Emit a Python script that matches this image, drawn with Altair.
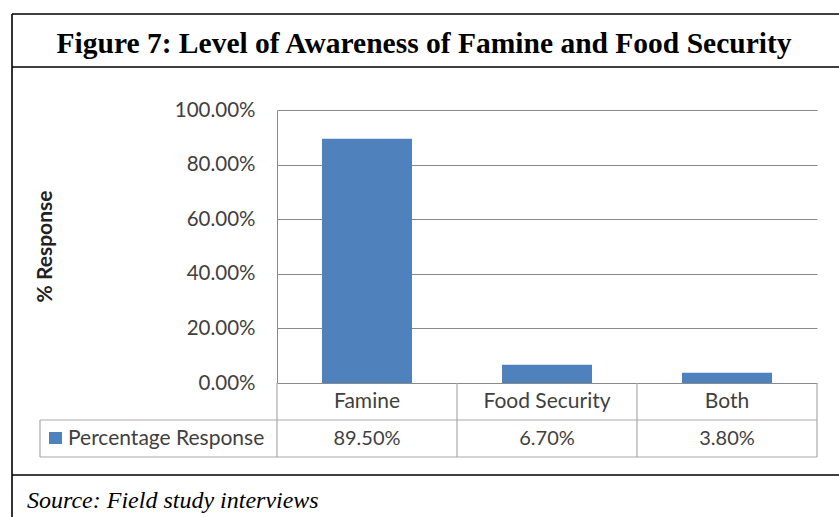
import altair as alt
import pandas as pd

# Survey results
categories = ["Famine", "Food Security", "Both"]
responses = [0.895, 0.067, 0.038]
series_name = "Percentage Response"
y_ticks = [0, 0.2, 0.4, 0.6, 0.8, 1.0]
figure_title = "Figure 7: Level of Awareness of Famine and Food Security"
source_note = "Source: Field study interviews"
y_title = "% Response"

df = pd.DataFrame({"category": categories, "value": responses})
one = pd.DataFrame({"k": [0]})

BLUE = "#4F81BD"
GRID = "#8A8A8A"
TABLE = "#A9A9A9"
TEXT = "#3F3F3F"
SANS = "Lato"
SERIF = "Liberation Serif"
FRAME_W = 1.6
WORD_SIZE = 21
NUM_SIZE = 20

x_enc = alt.X("category:N", sort=categories,
              scale=alt.Scale(paddingInner=0, paddingOuter=0), axis=None)

base = alt.Chart(df)

bars = base.mark_bar(width=alt.RelativeBandSize(0.5), color=BLUE).encode(
    x=x_enc,
    y=alt.Y("value:Q",
            scale=alt.Scale(domain=[0, 1], nice=False),
            axis=alt.Axis(values=y_ticks, format=".2%", title=y_title,
                          tickSize=0, labelPadding=22, labelFontSize=20.5,
                          labelFont=SANS, labelColor=TEXT,
                          domainColor=GRID, gridColor=GRID, grid=True,
                          titleFont=SANS, titleFontSize=21, titleFontWeight="bold",
                          titleColor="#222222", titleX=-232, titleY=136,
                          titleBaseline="middle", titleAlign="center")),
)

# data table under the plot: category header row and value row
header = base.mark_text(fontSize=WORD_SIZE, font=SANS, color=TEXT, baseline="middle").encode(
    x=x_enc, y=alt.value(292), text="category:N")
values_row = base.mark_text(fontSize=NUM_SIZE, font=SANS, color=TEXT, baseline="middle").encode(
    x=x_enc, y=alt.value(329), text=alt.Text("value:Q", format=".2%"))

col_lines = base.mark_rule(color=TABLE, strokeWidth=1.2).encode(
    x=alt.X("category:N", sort=categories, bandPosition=0,
            scale=alt.Scale(paddingInner=0, paddingOuter=0), axis=None),
    y=alt.value(273), y2=alt.value(347))

def hrule(x0, x1, y, color, w):
    return alt.Chart(one).mark_rule(color=color, strokeWidth=w).encode(
        x=alt.value(x0), x2=alt.value(x1), y=alt.value(y))

def vrule(x, y0, y1, color, w):
    return alt.Chart(one).mark_rule(color=color, strokeWidth=w).encode(
        x=alt.value(x), y=alt.value(y0), y2=alt.value(y1))

table_lines = [
    hrule(-237, 540, 310, TABLE, 1.2),
    hrule(-237, 540, 347, TABLE, 1.2),
    vrule(540, 273, 347, TABLE, 1.2),
    vrule(-237, 310, 347, TABLE, 1.2),
]

swatch = alt.Chart(one).mark_rect(color=BLUE).encode(
    x=alt.value(-228), x2=alt.value(-215), y=alt.value(322), y2=alt.value(334))
legend_text = alt.Chart(pd.DataFrame({"s": [series_name]})).mark_text(
    fontSize=WORD_SIZE, font=SANS, color=TEXT, align="left", baseline="middle").encode(
    x=alt.value(-209), y=alt.value(329), text="s:N")

# outer frame
frame = [
    hrule(-265, 562, -96, "#000000", FRAME_W),
    hrule(-265, 562, -43, "#000000", FRAME_W),
    hrule(-265, 562, 365, "#000000", FRAME_W),
    vrule(-265, -96, 407, "#000000", FRAME_W),
]

title = alt.Chart(pd.DataFrame({"t": [figure_title]})).mark_text(
    font=SERIF, fontSize=29.5, fontWeight="bold", color="#000000",
    align="center", baseline="alphabetic").encode(
    x=alt.value(147), y=alt.value(-57), text="t:N")

source = alt.Chart(pd.DataFrame({"t": [source_note]})).mark_text(
    font=SERIF, fontSize=24, fontStyle="italic", color="#000000",
    align="left", baseline="alphabetic").encode(
    x=alt.value(-250), y=alt.value(398), text="t:N")

chart = alt.layer(
    bars, col_lines, *table_lines, header, values_row, swatch, legend_text,
    *frame, title, source
).properties(
    width=540, height=273,
    autosize=alt.AutoSizeParams(type="none"),
    padding={"left": 277, "top": 110, "right": 22, "bottom": 134},
    background="white",
).configure_view(strokeOpacity=0)

chart.save("out.html", embed_options={"renderer": "svg", "actions": False})
